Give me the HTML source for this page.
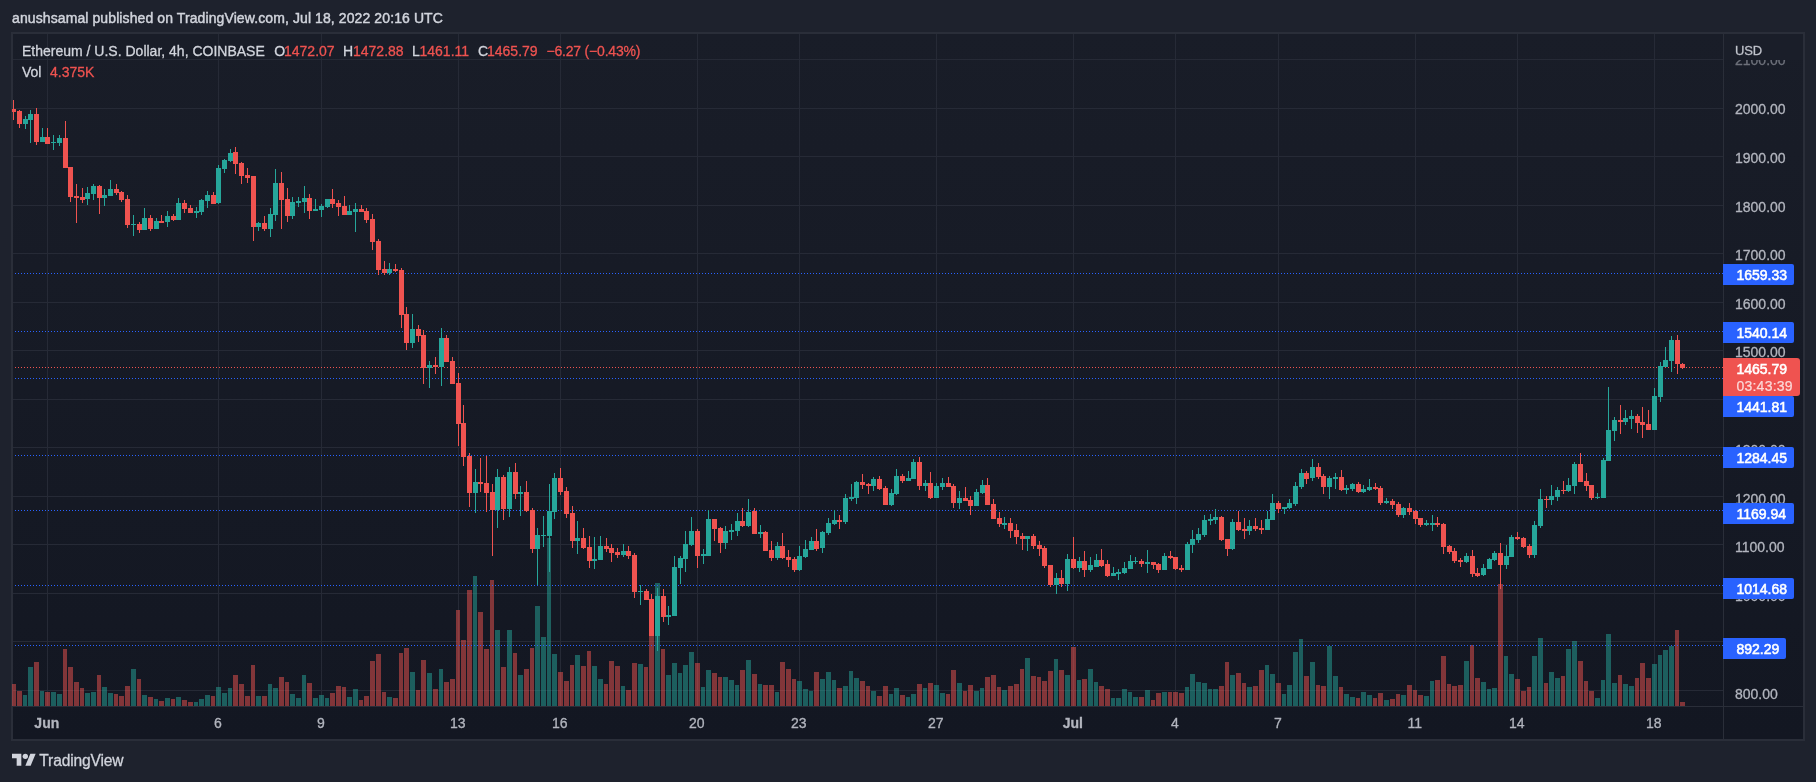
<!DOCTYPE html><html><head><meta charset="utf-8"><title>ETHUSD</title><style>html,body{margin:0;padding:0}
body{width:1816px;height:782px;background:#1e222d;overflow:hidden;position:relative;font-family:"Liberation Sans",sans-serif;}
.t{position:absolute;white-space:nowrap;line-height:1;color:#d1d4dc;font-size:14px;-webkit-text-stroke:0.3px}
.r{color:#ef5350}
.pl{position:absolute;left:1723px;height:21px;line-height:23px;color:#fff;font-size:14px;-webkit-text-stroke:0.55px #fff;border-radius:0 2px 2px 0;background:#2962ff;white-space:nowrap;box-sizing:border-box;padding-left:13.4px}
.ax{position:absolute;left:1735px;color:#b2b5be;-webkit-text-stroke:0.3px #b2b5be;font-size:14px;line-height:1;white-space:nowrap}
.tm{position:absolute;top:716px;color:#b2b5be;-webkit-text-stroke:0.3px #b2b5be;font-size:14px;line-height:1;white-space:nowrap;transform:translateX(-50%)}
svg{position:absolute;left:0;top:0}
</style></head><body><svg width="1816" height="782" viewBox="0 0 1816 782" shape-rendering="crispEdges"><defs><linearGradient id="bg" x1="0" y1="0" x2="0" y2="1"><stop offset="0" stop-color="#191d28"/><stop offset="1" stop-color="#131722"/></linearGradient><clipPath id="cp"><rect x="12" y="34" width="1711" height="672"/></clipPath></defs><rect x="11" y="32" width="1794" height="709" fill="#2a2e39"/><rect x="13" y="34" width="1790" height="705" fill="url(#bg)"/><path d="M47 34h1v672h-1zM218 34h1v672h-1zM321 34h1v672h-1zM458 34h1v672h-1zM560 34h1v672h-1zM697 34h1v672h-1zM799 34h1v672h-1zM936 34h1v672h-1zM1073 34h1v672h-1zM1175 34h1v672h-1zM1278 34h1v672h-1zM1415 34h1v672h-1zM1517 34h1v672h-1zM1654 34h1v672h-1zM13 690h1710v1h-1710zM13 641h1710v1h-1710zM13 593h1710v1h-1710zM13 544h1710v1h-1710zM13 496h1710v1h-1710zM13 447h1710v1h-1710zM13 399h1710v1h-1710zM13 350h1710v1h-1710zM13 302h1710v1h-1710zM13 253h1710v1h-1710zM13 205h1710v1h-1710zM13 156h1710v1h-1710zM13 108h1710v1h-1710zM13 59h1710v1h-1710z" fill="#262a36"/><path d="M1723 34h1v705h-1zM13 706h1790v1h-1790z" fill="#2a2e39"/><g clip-path="url(#cp)"><path d="M23 695h4V706h-4zM28 667h5V706h-5zM40 691h4V706h-4zM51 692h5V706h-5zM57 694h5V706h-5zM85 693h5V706h-5zM91 692h5V706h-5zM102 687h5V706h-5zM108 693h5V706h-5zM131 669h5V706h-5zM142 695h5V706h-5zM154 699h4V706h-4zM165 698h5V706h-5zM176 697h5V706h-5zM194 702h4V706h-4zM199 699h5V706h-5zM205 695h5V706h-5zM216 687h5V706h-5zM222 693h5V706h-5zM228 688h4V706h-4zM256 696h5V706h-5zM268 684h4V706h-4zM273 688h5V706h-5zM290 694h5V706h-5zM296 698h5V706h-5zM302 675h4V706h-4zM313 698h5V706h-5zM319 695h5V706h-5zM325 698h4V706h-4zM347 697h5V706h-5zM353 689h5V706h-5zM387 697h5V706h-5zM410 672h5V706h-5zM427 673h5V706h-5zM439 669h4V706h-4zM473 576h4V706h-4zM495 630h5V706h-5zM507 630h5V706h-5zM518 675h5V706h-5zM535 606h5V706h-5zM541 637h5V706h-5zM547 538h4V706h-4zM552 654h5V706h-5zM575 655h5V706h-5zM592 666h5V706h-5zM598 679h5V706h-5zM621 686h4V706h-4zM638 664h5V706h-5zM655 583h5V706h-5zM666 675h5V706h-5zM672 663h5V706h-5zM678 673h4V706h-4zM683 665h5V706h-5zM689 652h5V706h-5zM701 687h4V706h-4zM706 670h5V706h-5zM723 677h5V706h-5zM729 680h5V706h-5zM735 685h4V706h-4zM746 660h5V706h-5zM758 684h4V706h-4zM775 692h4V706h-4zM797 681h5V706h-5zM803 689h5V706h-5zM809 691h4V706h-4zM820 679h5V706h-5zM826 672h5V706h-5zM832 680h4V706h-4zM843 686h5V706h-5zM849 671h4V706h-4zM854 678h5V706h-5zM871 691h5V706h-5zM889 694h4V706h-4zM894 688h5V706h-5zM906 697h4V706h-4zM911 694h5V706h-5zM923 688h4V706h-4zM934 685h5V706h-5zM940 693h5V706h-5zM957 683h5V706h-5zM974 691h5V706h-5zM980 688h4V706h-4zM1002 690h5V706h-5zM1025 658h5V706h-5zM1054 659h4V706h-4zM1065 675h5V706h-5zM1077 680h4V706h-4zM1088 669h5V706h-5zM1094 682h4V706h-4zM1111 698h4V706h-4zM1116 698h5V706h-5zM1122 689h5V706h-5zM1128 692h4V706h-4zM1133 697h5V706h-5zM1145 690h5V706h-5zM1162 692h5V706h-5zM1185 687h4V706h-4zM1190 674h5V706h-5zM1196 682h5V706h-5zM1202 683h5V706h-5zM1208 689h4V706h-4zM1213 689h5V706h-5zM1230 675h5V706h-5zM1247 687h5V706h-5zM1265 665h4V706h-4zM1270 674h5V706h-5zM1282 694h4V706h-4zM1287 685h5V706h-5zM1293 652h5V706h-5zM1299 639h4V706h-4zM1310 662h5V706h-5zM1327 646h5V706h-5zM1333 676h5V706h-5zM1344 694h5V706h-5zM1350 697h5V706h-5zM1361 692h5V706h-5zM1367 695h5V706h-5zM1384 700h5V706h-5zM1401 695h5V706h-5zM1424 696h5V706h-5zM1430 681h4V706h-4zM1464 661h5V706h-5zM1481 682h5V706h-5zM1487 689h4V706h-4zM1492 688h5V706h-5zM1504 656h4V706h-4zM1509 674h5V706h-5zM1532 656h5V706h-5zM1538 638h5V706h-5zM1549 672h5V706h-5zM1555 678h5V706h-5zM1566 649h5V706h-5zM1572 641h5V706h-5zM1595 698h5V706h-5zM1601 680h4V706h-4zM1606 634h5V706h-5zM1612 683h5V706h-5zM1623 684h5V706h-5zM1629 686h5V706h-5zM1652 664h5V706h-5zM1658 655h4V706h-4zM1663 650h5V706h-5zM1669 646h5V706h-5z" fill="#26a69a" fill-opacity="0.5"/><path d="M11 684h5V706h-5zM17 691h5V706h-5zM34 662h5V706h-5zM45 692h5V706h-5zM63 649h4V706h-4zM68 667h5V706h-5zM74 682h5V706h-5zM80 688h4V706h-4zM97 675h4V706h-4zM114 694h4V706h-4zM119 696h5V706h-5zM125 686h5V706h-5zM137 679h4V706h-4zM148 697h5V706h-5zM159 701h5V706h-5zM171 699h4V706h-4zM182 700h5V706h-5zM188 702h5V706h-5zM211 696h4V706h-4zM233 675h5V706h-5zM239 684h5V706h-5zM245 696h5V706h-5zM251 665h4V706h-4zM262 696h5V706h-5zM279 677h5V706h-5zM285 682h4V706h-4zM307 683h5V706h-5zM330 693h5V706h-5zM336 686h5V706h-5zM342 687h4V706h-4zM359 700h4V706h-4zM364 696h5V706h-5zM370 661h5V706h-5zM376 654h5V706h-5zM382 692h4V706h-4zM393 698h5V706h-5zM399 653h4V706h-4zM404 648h5V706h-5zM416 690h4V706h-4zM421 660h5V706h-5zM433 689h5V706h-5zM444 682h5V706h-5zM450 679h5V706h-5zM456 610h4V706h-4zM461 640h5V706h-5zM467 590h5V706h-5zM478 612h5V706h-5zM484 649h5V706h-5zM490 580h4V706h-4zM501 667h5V706h-5zM513 653h4V706h-4zM524 669h5V706h-5zM530 648h4V706h-4zM558 672h5V706h-5zM564 681h5V706h-5zM570 665h4V706h-4zM581 666h5V706h-5zM587 651h4V706h-4zM604 684h4V706h-4zM609 661h5V706h-5zM615 666h5V706h-5zM626 690h5V706h-5zM632 663h5V706h-5zM644 667h4V706h-4zM649 636h5V706h-5zM661 649h4V706h-4zM695 663h5V706h-5zM712 673h5V706h-5zM718 677h4V706h-4zM740 670h5V706h-5zM752 674h5V706h-5zM763 685h5V706h-5zM769 685h5V706h-5zM780 662h5V706h-5zM786 669h5V706h-5zM792 679h4V706h-4zM814 672h5V706h-5zM837 688h5V706h-5zM860 681h5V706h-5zM866 686h4V706h-4zM877 696h5V706h-5zM883 686h5V706h-5zM900 695h5V706h-5zM917 684h5V706h-5zM928 683h5V706h-5zM946 694h4V706h-4zM951 670h5V706h-5zM963 691h4V706h-4zM968 685h5V706h-5zM985 677h5V706h-5zM991 675h5V706h-5zM997 687h4V706h-4zM1008 686h5V706h-5zM1014 684h5V706h-5zM1020 669h4V706h-4zM1031 676h5V706h-5zM1037 677h4V706h-4zM1042 681h5V706h-5zM1048 671h5V706h-5zM1059 670h5V706h-5zM1071 647h5V706h-5zM1082 679h5V706h-5zM1099 686h5V706h-5zM1105 689h5V706h-5zM1139 697h5V706h-5zM1151 700h4V706h-4zM1156 693h5V706h-5zM1168 692h4V706h-4zM1173 692h5V706h-5zM1179 693h5V706h-5zM1219 686h5V706h-5zM1225 662h4V706h-4zM1236 673h5V706h-5zM1242 683h4V706h-4zM1253 686h5V706h-5zM1259 670h5V706h-5zM1276 683h5V706h-5zM1304 676h5V706h-5zM1316 685h4V706h-4zM1321 686h5V706h-5zM1339 687h4V706h-4zM1356 698h4V706h-4zM1373 698h4V706h-4zM1378 693h5V706h-5zM1390 699h5V706h-5zM1396 694h4V706h-4zM1407 685h5V706h-5zM1413 690h4V706h-4zM1418 695h5V706h-5zM1435 680h5V706h-5zM1441 656h5V706h-5zM1447 684h4V706h-4zM1452 686h5V706h-5zM1458 685h5V706h-5zM1470 645h4V706h-4zM1475 678h5V706h-5zM1498 584h5V706h-5zM1515 679h5V706h-5zM1521 691h5V706h-5zM1527 687h4V706h-4zM1544 683h4V706h-4zM1561 676h4V706h-4zM1578 661h5V706h-5zM1584 681h4V706h-4zM1589 691h5V706h-5zM1618 675h4V706h-4zM1635 678h4V706h-4zM1640 663h5V706h-5zM1646 678h5V706h-5zM1675 630h4V706h-4zM1680 702h5V706h-5z" fill="#ef5350" fill-opacity="0.5"/><line x1="15" x2="1723" y1="273.5" y2="273.5" stroke="#2962ff" stroke-width="1" stroke-dasharray="1 2"/><line x1="15" x2="1723" y1="331.5" y2="331.5" stroke="#2962ff" stroke-width="1" stroke-dasharray="1 2"/><line x1="15" x2="1723" y1="378.5" y2="378.5" stroke="#2962ff" stroke-width="1" stroke-dasharray="1 2"/><line x1="15" x2="1723" y1="455.5" y2="455.5" stroke="#2962ff" stroke-width="1" stroke-dasharray="1 2"/><line x1="15" x2="1723" y1="510.5" y2="510.5" stroke="#2962ff" stroke-width="1" stroke-dasharray="1 2"/><line x1="15" x2="1723" y1="585.5" y2="585.5" stroke="#2962ff" stroke-width="1" stroke-dasharray="1 2"/><line x1="15" x2="1723" y1="645.5" y2="645.5" stroke="#2962ff" stroke-width="1" stroke-dasharray="1 2"/><line x1="15" x2="1723" y1="367.5" y2="367.5" stroke="#ef5350" stroke-width="1" stroke-dasharray="1 2"/><path d="M25 116h1V129h-1zM23 119h5V124h-5zM30 110h1V143h-1zM28 114h5V120h-5zM42 128h1V142h-1zM40 137h5V142h-5zM53 135h1V150h-1zM51 142h5V143h-5zM59 135h1V146h-1zM57 138h5V143h-5zM87 187h1V205h-1zM85 193h5V199h-5zM93 184h1V200h-1zM91 186h5V194h-5zM104 189h1V206h-1zM102 195h5V198h-5zM110 180h1V196h-1zM108 189h5V196h-5zM133 215h1V236h-1zM131 224h5V225h-5zM144 208h1V230h-1zM142 218h5V230h-5zM156 218h1V229h-1zM154 221h5V229h-5zM167 211h1V227h-1zM165 216h5V222h-5zM178 198h1V220h-1zM176 203h5V220h-5zM196 207h1V218h-1zM194 211h5V213h-5zM201 199h1V215h-1zM199 200h5V212h-5zM207 191h1V208h-1zM205 195h5V201h-5zM218 165h1V204h-1zM216 168h5V203h-5zM224 159h1V173h-1zM222 160h5V169h-5zM230 149h1V162h-1zM228 153h5V161h-5zM258 222h1V231h-1zM256 223h5V227h-5zM270 208h1V237h-1zM268 214h5V229h-5zM275 169h1V221h-1zM273 183h5V215h-5zM292 197h1V219h-1zM290 202h5V216h-5zM298 197h1V207h-1zM296 201h5V203h-5zM304 186h1V213h-1zM302 198h5V202h-5zM315 199h1V211h-1zM313 209h5V211h-5zM321 204h1V217h-1zM319 206h5V210h-5zM327 199h1V208h-1zM325 199h5V207h-5zM349 205h1V215h-1zM347 211h5V215h-5zM355 203h1V232h-1zM353 209h5V212h-5zM389 263h1V275h-1zM387 269h5V273h-5zM412 314h1V348h-1zM410 329h5V343h-5zM429 361h1V388h-1zM427 365h5V368h-5zM441 328h1V386h-1zM439 338h5V367h-5zM475 469h1V513h-1zM473 482h5V493h-5zM497 469h1V528h-1zM495 477h5V510h-5zM509 467h1V517h-1zM507 472h5V509h-5zM520 486h1V516h-1zM518 492h5V494h-5zM537 528h1V585h-1zM535 535h5V549h-5zM543 516h1V547h-1zM541 535h5V536h-5zM549 484h1V572h-1zM547 511h5V536h-5zM554 473h1V519h-1zM552 478h5V512h-5zM577 521h1V554h-1zM575 538h5V541h-5zM594 537h1V569h-1zM592 559h5V561h-5zM600 536h1V560h-1zM598 546h5V560h-5zM623 544h1V557h-1zM621 551h5V555h-5zM640 585h1V605h-1zM638 591h5V592h-5zM657 588h1V651h-1zM655 596h5V636h-5zM668 606h1V625h-1zM666 615h5V617h-5zM674 556h1V616h-1zM672 567h5V616h-5zM680 556h1V584h-1zM678 558h5V568h-5zM685 531h1V572h-1zM683 544h5V559h-5zM691 517h1V546h-1zM689 531h5V545h-5zM703 549h1V564h-1zM701 554h5V556h-5zM708 510h1V556h-1zM706 519h5V556h-5zM725 526h1V549h-1zM723 531h5V543h-5zM731 524h1V540h-1zM729 530h5V532h-5zM737 513h1V536h-1zM735 521h5V531h-5zM748 499h1V527h-1zM746 512h5V526h-5zM760 525h1V538h-1zM758 532h5V534h-5zM777 542h1V560h-1zM775 546h5V558h-5zM799 546h1V571h-1zM797 556h5V570h-5zM805 540h1V558h-1zM803 549h5V557h-5zM811 537h1V550h-1zM809 541h5V550h-5zM822 531h1V553h-1zM820 532h5V548h-5zM828 518h1V535h-1zM826 523h5V533h-5zM834 510h1V525h-1zM832 520h5V524h-5zM845 494h1V524h-1zM843 498h5V522h-5zM851 484h1V501h-1zM849 497h5V499h-5zM856 481h1V504h-1zM854 482h5V498h-5zM873 477h1V491h-1zM871 479h5V486h-5zM891 489h1V506h-1zM889 493h5V505h-5zM896 469h1V495h-1zM894 476h5V494h-5zM908 471h1V481h-1zM906 478h5V481h-5zM913 459h1V479h-1zM911 462h5V479h-5zM925 480h1V491h-1zM923 483h5V486h-5zM936 483h1V498h-1zM934 486h5V498h-5zM942 478h1V490h-1zM940 483h5V487h-5zM959 491h1V509h-1zM957 498h5V503h-5zM976 489h1V506h-1zM974 492h5V506h-5zM982 480h1V494h-1zM980 485h5V493h-5zM1004 517h1V529h-1zM1002 523h5V525h-5zM1027 536h1V551h-1zM1025 536h5V539h-5zM1056 573h1V594h-1zM1054 578h5V585h-5zM1067 554h1V591h-1zM1065 559h5V584h-5zM1079 557h1V572h-1zM1077 561h5V568h-5zM1090 557h1V572h-1zM1088 565h5V570h-5zM1096 554h1V567h-1zM1094 560h5V567h-5zM1113 567h1V576h-1zM1111 573h5V576h-5zM1118 569h1V580h-1zM1116 572h5V574h-5zM1124 562h1V574h-1zM1122 568h5V573h-5zM1130 555h1V569h-1zM1128 561h5V569h-5zM1135 557h1V564h-1zM1133 561h5V562h-5zM1147 550h1V573h-1zM1145 562h5V564h-5zM1164 553h1V570h-1zM1162 556h5V570h-5zM1187 542h1V570h-1zM1185 544h5V570h-5zM1192 530h1V553h-1zM1190 539h5V545h-5zM1198 528h1V543h-1zM1196 534h5V540h-5zM1204 515h1V537h-1zM1202 520h5V535h-5zM1210 514h1V525h-1zM1208 519h5V521h-5zM1215 509h1V524h-1zM1213 517h5V520h-5zM1232 519h1V550h-1zM1230 522h5V549h-5zM1249 520h1V535h-1zM1247 526h5V531h-5zM1267 511h1V530h-1zM1265 519h5V530h-5zM1272 494h1V520h-1zM1270 503h5V520h-5zM1284 507h1V514h-1zM1282 507h5V509h-5zM1289 499h1V509h-1zM1287 503h5V508h-5zM1295 482h1V506h-1zM1293 486h5V504h-5zM1301 469h1V489h-1zM1299 473h5V487h-5zM1312 459h1V481h-1zM1310 467h5V478h-5zM1329 476h1V499h-1zM1327 478h5V487h-5zM1335 473h1V489h-1zM1333 477h5V479h-5zM1346 485h1V494h-1zM1344 488h5V490h-5zM1352 483h1V491h-1zM1350 484h5V489h-5zM1363 485h1V493h-1zM1361 489h5V492h-5zM1369 479h1V491h-1zM1367 487h5V490h-5zM1386 498h1V504h-1zM1384 501h5V503h-5zM1403 507h1V518h-1zM1401 508h5V515h-5zM1426 520h1V526h-1zM1424 523h5V525h-5zM1432 515h1V531h-1zM1430 523h5V525h-5zM1466 553h1V563h-1zM1464 556h5V562h-5zM1483 564h1V576h-1zM1481 568h5V575h-5zM1489 558h1V569h-1zM1487 559h5V569h-5zM1494 551h1V561h-1zM1492 553h5V560h-5zM1506 545h1V569h-1zM1504 556h5V565h-5zM1511 535h1V557h-1zM1509 537h5V557h-5zM1534 521h1V558h-1zM1532 525h5V555h-5zM1540 489h1V528h-1zM1538 499h5V526h-5zM1551 485h1V505h-1zM1549 496h5V500h-5zM1557 487h1V501h-1zM1555 490h5V497h-5zM1568 478h1V492h-1zM1566 485h5V491h-5zM1574 462h1V494h-1zM1572 464h5V486h-5zM1597 493h1V499h-1zM1595 497h5V498h-5zM1603 458h1V498h-1zM1601 460h5V498h-5zM1608 387h1V461h-1zM1606 430h5V461h-5zM1614 417h1V441h-1zM1612 420h5V431h-5zM1625 410h1V425h-1zM1623 418h5V422h-5zM1631 410h1V429h-1zM1629 416h5V419h-5zM1654 388h1V430h-1zM1652 396h5V430h-5zM1660 362h1V402h-1zM1658 366h5V397h-5zM1665 347h1V367h-1zM1663 360h5V367h-5zM1671 336h1V372h-1zM1669 340h5V361h-5z" fill="#26a69a" shape-rendering="auto"/><path d="M13 100h1V120h-1zM11 109h5V112h-5zM19 110h1V128h-1zM17 111h5V124h-5zM36 108h1V145h-1zM34 114h5V142h-5zM47 128h1V144h-1zM45 137h5V144h-5zM65 121h1V168h-1zM63 138h5V168h-5zM70 167h1V202h-1zM68 167h5V197h-5zM76 184h1V223h-1zM74 196h5V198h-5zM82 188h1V203h-1zM80 197h5V200h-5zM99 185h1V214h-1zM97 186h5V198h-5zM116 184h1V195h-1zM114 189h5V193h-5zM121 191h1V202h-1zM119 192h5V200h-5zM127 195h1V228h-1zM125 199h5V225h-5zM139 222h1V233h-1zM137 224h5V230h-5zM150 215h1V231h-1zM148 218h5V229h-5zM161 215h1V223h-1zM159 221h5V223h-5zM173 214h1V221h-1zM171 216h5V220h-5zM184 200h1V213h-1zM182 203h5V209h-5zM190 205h1V213h-1zM188 208h5V213h-5zM213 192h1V204h-1zM211 195h5V204h-5zM235 147h1V174h-1zM233 152h5V164h-5zM241 162h1V184h-1zM239 163h5V176h-5zM247 168h1V183h-1zM245 175h5V178h-5zM253 176h1V241h-1zM251 176h5V227h-5zM264 216h1V231h-1zM262 223h5V229h-5zM281 172h1V229h-1zM279 183h5V200h-5zM287 188h1V222h-1zM285 199h5V216h-5zM309 194h1V219h-1zM307 198h5V211h-5zM332 189h1V208h-1zM330 199h5V204h-5zM338 200h1V216h-1zM336 203h5V207h-5zM344 196h1V215h-1zM342 206h5V215h-5zM361 205h1V212h-1zM359 209h5V212h-5zM366 208h1V223h-1zM364 211h5V220h-5zM372 214h1V250h-1zM370 219h5V242h-5zM378 239h1V275h-1zM376 241h5V270h-5zM384 261h1V275h-1zM382 269h5V273h-5zM395 264h1V272h-1zM393 269h5V271h-5zM401 268h1V328h-1zM399 270h5V315h-5zM406 307h1V350h-1zM404 314h5V343h-5zM418 325h1V342h-1zM416 329h5V336h-5zM423 330h1V384h-1zM421 335h5V368h-5zM435 357h1V374h-1zM433 365h5V367h-5zM446 335h1V362h-1zM444 338h5V362h-5zM452 357h1V384h-1zM450 361h5V384h-5zM458 373h1V446h-1zM456 383h5V424h-5zM463 405h1V466h-1zM461 423h5V457h-5zM469 453h1V507h-1zM467 456h5V493h-5zM480 458h1V492h-1zM478 482h5V484h-5zM486 456h1V512h-1zM484 483h5V493h-5zM492 484h1V556h-1zM490 492h5V510h-5zM503 475h1V520h-1zM501 477h5V509h-5zM515 463h1V499h-1zM513 472h5V494h-5zM526 481h1V512h-1zM524 492h5V511h-5zM532 508h1V553h-1zM530 510h5V549h-5zM560 468h1V495h-1zM558 478h5V492h-5zM566 487h1V518h-1zM564 491h5V514h-5zM572 506h1V548h-1zM570 513h5V541h-5zM583 528h1V549h-1zM581 538h5V548h-5zM589 536h1V568h-1zM587 547h5V561h-5zM606 538h1V552h-1zM604 546h5V549h-5zM611 544h1V562h-1zM609 548h5V553h-5zM617 548h1V558h-1zM615 552h5V555h-5zM628 546h1V559h-1zM626 551h5V556h-5zM634 553h1V598h-1zM632 555h5V592h-5zM646 589h1V600h-1zM644 591h5V600h-5zM651 594h1V636h-1zM649 599h5V636h-5zM663 589h1V622h-1zM661 596h5V617h-5zM697 529h1V568h-1zM695 531h5V556h-5zM714 519h1V541h-1zM712 519h5V529h-5zM720 527h1V553h-1zM718 528h5V543h-5zM742 508h1V527h-1zM740 521h5V526h-5zM754 508h1V534h-1zM752 511h5V534h-5zM765 531h1V551h-1zM763 532h5V551h-5zM771 541h1V561h-1zM769 550h5V558h-5zM782 533h1V559h-1zM780 546h5V558h-5zM788 550h1V567h-1zM786 557h5V560h-5zM794 557h1V572h-1zM792 559h5V570h-5zM816 529h1V551h-1zM814 541h5V549h-5zM839 515h1V529h-1zM837 520h5V522h-5zM862 474h1V489h-1zM860 482h5V485h-5zM868 483h1V494h-1zM866 484h5V486h-5zM879 476h1V490h-1zM877 479h5V489h-5zM885 486h1V505h-1zM883 488h5V505h-5zM902 474h1V483h-1zM900 476h5V481h-5zM919 457h1V490h-1zM917 462h5V486h-5zM930 472h1V499h-1zM928 483h5V498h-5zM948 477h1V487h-1zM946 483h5V487h-5zM953 484h1V508h-1zM951 486h5V503h-5zM965 487h1V501h-1zM963 498h5V501h-5zM970 496h1V515h-1zM968 500h5V506h-5zM987 478h1V505h-1zM985 485h5V505h-5zM993 499h1V519h-1zM991 504h5V519h-5zM999 512h1V527h-1zM997 518h5V524h-5zM1010 518h1V538h-1zM1008 523h5V531h-5zM1016 524h1V544h-1zM1014 530h5V537h-5zM1022 533h1V550h-1zM1020 536h5V539h-5zM1033 534h1V549h-1zM1031 536h5V546h-5zM1039 541h1V556h-1zM1037 545h5V549h-5zM1044 546h1V568h-1zM1042 548h5V566h-5zM1050 565h1V587h-1zM1048 565h5V585h-5zM1061 570h1V587h-1zM1059 578h5V584h-5zM1073 537h1V569h-1zM1071 559h5V568h-5zM1084 551h1V577h-1zM1082 561h5V570h-5zM1101 549h1V567h-1zM1099 560h5V566h-5zM1107 560h1V577h-1zM1105 564h5V576h-5zM1141 559h1V567h-1zM1139 561h5V564h-5zM1153 562h1V569h-1zM1151 562h5V565h-5zM1158 563h1V573h-1zM1156 564h5V570h-5zM1170 551h1V559h-1zM1168 556h5V558h-5zM1175 557h1V570h-1zM1173 557h5V569h-5zM1181 565h1V572h-1zM1179 568h5V570h-5zM1221 516h1V541h-1zM1219 517h5V540h-5zM1227 539h1V556h-1zM1225 539h5V549h-5zM1238 511h1V531h-1zM1236 522h5V530h-5zM1244 518h1V539h-1zM1242 529h5V531h-5zM1255 518h1V531h-1zM1253 526h5V529h-5zM1261 520h1V534h-1zM1259 528h5V530h-5zM1278 501h1V513h-1zM1276 503h5V509h-5zM1306 471h1V484h-1zM1304 473h5V479h-5zM1318 463h1V479h-1zM1316 467h5V477h-5zM1323 474h1V494h-1zM1321 476h5V487h-5zM1341 470h1V491h-1zM1339 477h5V490h-5zM1358 482h1V493h-1zM1356 484h5V492h-5zM1375 483h1V490h-1zM1373 487h5V489h-5zM1380 486h1V505h-1zM1378 488h5V503h-5zM1392 499h1V509h-1zM1390 501h5V505h-5zM1398 502h1V517h-1zM1396 504h5V515h-5zM1409 503h1V515h-1zM1407 508h5V512h-5zM1415 510h1V524h-1zM1413 511h5V519h-5zM1420 518h1V527h-1zM1418 518h5V525h-5zM1437 517h1V527h-1zM1435 523h5V525h-5zM1443 523h1V554h-1zM1441 524h5V547h-5zM1449 545h1V554h-1zM1447 546h5V552h-5zM1454 548h1V563h-1zM1452 551h5V561h-5zM1460 558h1V567h-1zM1458 560h5V562h-5zM1472 550h1V577h-1zM1470 556h5V574h-5zM1477 568h1V577h-1zM1475 573h5V576h-5zM1500 543h1V589h-1zM1498 553h5V565h-5zM1517 532h1V540h-1zM1515 537h5V539h-5zM1523 537h1V548h-1zM1521 538h5V547h-5zM1529 544h1V558h-1zM1527 546h5V555h-5zM1546 496h1V508h-1zM1544 499h5V500h-5zM1563 481h1V494h-1zM1561 490h5V491h-5zM1580 453h1V482h-1zM1578 464h5V482h-5zM1586 473h1V491h-1zM1584 481h5V486h-5zM1591 485h1V500h-1zM1589 485h5V498h-5zM1620 405h1V434h-1zM1618 420h5V422h-5zM1637 414h1V433h-1zM1635 416h5V423h-5zM1642 407h1V438h-1zM1640 422h5V425h-5zM1648 410h1V430h-1zM1646 424h5V430h-5zM1677 335h1V374h-1zM1675 340h5V364h-5zM1682 363h1V369h-1zM1680 364h5V368h-5z" fill="#ef5350" shape-rendering="auto"/></g></svg><div id="txt" style="position:absolute;left:0;top:0;width:1816px;height:782px;will-change:transform"><div class="t" id="hdr" style="left:12px;top:11px;font-size:14px;color:#d1d4dc;letter-spacing:0.1px;-webkit-text-stroke:0.45px">anushsamal published on TradingView.com, Jul 18, 2022 20:16 UTC</div><div class="t" id="lg1" style="left:22px;top:44px">Ethereum / U.S. Dollar, 4h, COINBASE</div><div class="t " id="o" style="left:274.3px;top:44px">O</div><div class="t r" id="ov" style="left:284px;top:44px">1472.07</div><div class="t " id="h" style="left:343px;top:44px">H</div><div class="t r" id="hv" style="left:353px;top:44px">1472.88</div><div class="t " id="l" style="left:412px;top:44px">L</div><div class="t r" id="lv" style="left:419.5px;top:44px">1461.11</div><div class="t " id="c" style="left:478px;top:44px">C</div><div class="t r" id="cv" style="left:487px;top:44px">1465.79</div><div class="t r" id="ch" style="left:546.5px;top:44px;letter-spacing:-0.2px">−6.27 (−0.43%)</div><div class="t" id="vol" style="left:22px;top:65px">Vol</div><div class="t r" id="volv" style="left:50px;top:65px">4.375K</div><div class="ax" style="top:686.5px">800.00</div><div class="ax" style="top:637.6px">900.00</div><div class="ax" style="top:589.4px">1000.00</div><div class="ax" style="top:540.2px">1100.00</div><div class="ax" style="top:492px">1200.00</div><div class="ax" style="top:442.8px">1300.00</div><div class="ax" style="top:394.6px">1400.00</div><div class="ax" style="top:345.4px">1500.00</div><div class="ax" style="top:297.1px">1600.00</div><div class="ax" style="top:247.9px">1700.00</div><div class="ax" style="top:199.7px">1800.00</div><div class="ax" style="top:150.5px">1900.00</div><div class="ax" style="top:102.3px">2000.00</div><div class="ax" style="top:53.1px;opacity:0.55">2100.00</div><div style="position:absolute;left:1724px;top:34px;width:79px;height:25.5px;background:#1a1e29"></div><div class="ax" style="top:43.5px;font-size:13px;letter-spacing:-0.2px;color:#c5c8d0">USD</div><div class="pl" style="top:264px;width:71px;background:#2962ff">1659.33</div><div class="pl" style="top:322px;width:71px;background:#2962ff">1540.14</div><div class="pl" style="top:447px;width:71px;background:#2962ff">1284.45</div><div class="pl" style="top:503px;width:71px;background:#2962ff">1169.94</div><div class="pl" style="top:578px;width:71px;background:#2962ff">1014.68</div><div class="pl" style="top:638px;width:63px;background:#2962ff">892.29</div><div class="pl" style="top:396px;width:71px;background:#2962ff">1441.81</div><div class="pl" style="top:358px;height:38px;width:76.5px;background:#ef5350;line-height:17px;padding-top:2.5px;border-radius:0 3px 3px 0">1465.79<br><span style="-webkit-text-stroke:0.2px #fbd9d8;color:#fbd9d8;letter-spacing:0.25px">03:43:39</span></div><div class="tm" style="left:46.8px;font-weight:bold">Jun</div><div class="tm" style="left:217.8px">6</div><div class="tm" style="left:320.8px">9</div><div class="tm" style="left:457.8px">13</div><div class="tm" style="left:559.8px">16</div><div class="tm" style="left:696.8px">20</div><div class="tm" style="left:798.8px">23</div><div class="tm" style="left:935.8px">27</div><div class="tm" style="left:1072.8px;font-weight:bold">Jul</div><div class="tm" style="left:1174.8px">4</div><div class="tm" style="left:1277.8px">7</div><div class="tm" style="left:1414.8px">11</div><div class="tm" style="left:1516.8px">14</div><div class="tm" style="left:1653.8px">18</div><svg width="40" height="22" viewBox="0 0 36 28" style="left:12px;top:751px;width:24px;height:18.7px"><path d="M14 22H7V11H0V4h14v18zM28 22h-8l7.5-18h8L28 22z" fill="#d1d4dc"/><circle cx="20" cy="8" r="4" fill="#d1d4dc"/></svg><div class="t" id="tv" style="left:39.3px;top:753.4px;font-size:15.6px;letter-spacing:-0.15px;color:#d1d4dc">TradingView</div></div></body></html>
